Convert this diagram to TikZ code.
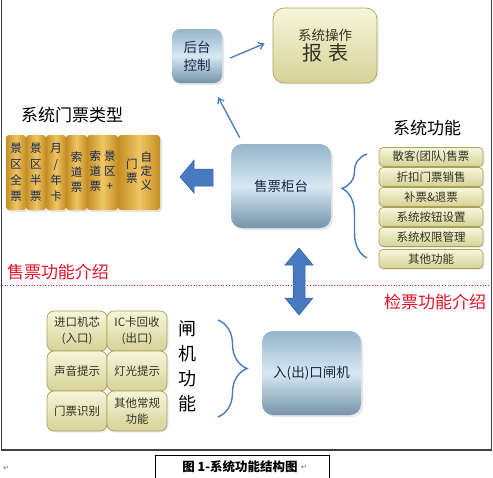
\documentclass[tikz,border=0pt]{standalone}
\usepackage{fontspec}
\setmainfont{Noto Sans CJK SC}
\newfontfamily\symfont{DejaVu Sans}
\usetikzlibrary{arrows.meta,positioning,shadows,decorations.pathreplacing}
\definecolor{boxBlueTop}{RGB}{150,180,202}
\definecolor{boxBlueMid}{RGB}{214,232,243}
\definecolor{boxBlueBot}{RGB}{118,148,170}
\definecolor{boxText}{RGB}{20,40,70}
\definecolor{khakiTop}{RGB}{246,246,218}
\definecolor{khakiBot}{RGB}{214,210,152}
\definecolor{khakiLine}{RGB}{170,162,90}
\definecolor{khakiText}{RGB}{50,50,35}
\definecolor{goldDark}{RGB}{196,142,36}
\definecolor{goldLight}{RGB}{240,198,100}
\definecolor{goldText}{RGB}{20,35,85}
\definecolor{arrowBlue}{RGB}{72,122,192}
\definecolor{arrowBlueDark}{RGB}{50,92,158}
\definecolor{titleRed}{RGB}{228,18,38}

\begin{document}
\begin{tikzpicture}[x=1pt, y=-1pt, every node/.style={inner sep=1pt},
  bluebox/.style={rounded corners=11pt, top color=boxBlueTop, bottom color=boxBlueBot, middle color=boxBlueMid,
    text=boxText, align=center, font=\fontsize{13.5}{18}\selectfont,
    drop shadow={shadow xshift=2pt, shadow yshift=-2pt, opacity=0.2}},
  khakibox/.style={rounded corners=4pt, draw=khakiLine, line width=0.7pt, top color=khakiTop, bottom color=khakiBot,
    text=khakiText, align=center, font=\fontsize{11.5}{16}\selectfont,
    drop shadow={shadow xshift=1.5pt, shadow yshift=-1.5pt, opacity=0.15}},
  goldbox/.style={rounded corners=3pt, left color=goldDark, right color=goldDark, middle color=goldLight,
    text=goldText, align=center, minimum height=75pt, font=\fontsize{11.5}{16}\selectfont,
    drop shadow={shadow xshift=2pt, shadow yshift=-2pt, opacity=0.2}},
  heading/.style={font=\fontsize{17}{20}\selectfont},
  thinarrow/.style={-{Straight Barb[length=5pt,width=7pt]}, arrowBlue, line width=1.3pt},
  bigarrow/.style={fill=arrowBlue, draw=arrowBlueDark, line width=0.5pt},
  bluebrace/.style={decorate, arrowBlue, line width=1.4pt}]
  \useasboundingbox (0,0) rectangle (493,477);

  % frame and separator
  \draw[black!75, line width=1.5pt] (1.5,0) -- (1.5,450) -- (491.5,450) -- (491.5,0);
  \draw[titleRed, dotted, line width=0.7pt] (2,285) -- (491,285);

  % sales counter with its neighbours
  \node[bluebox, minimum width=100pt, minimum height=84pt] (counter) at (281,186) {售票柜台};
  \node[bluebox, rounded corners=8pt, minimum width=50pt, minimum height=54pt] (backend) at (197,56) {后台\\控制};
  \node[khakibox, rounded corners=11pt, minimum width=104pt, minimum height=75pt] (report) at (325,45.5)
    {{\fontsize{13.5}{16}\selectfont 系统操作}\\[1pt]{\fontsize{20}{22}\selectfont 报\hspace{6pt}表}};
  \draw[thinarrow] ([xshift=9pt,yshift=6pt]counter.north west) -- ([xshift=-4pt,yshift=-14pt]backend.south east);
  \draw[thinarrow] ([xshift=8pt,yshift=-2pt]backend.east) -- ([xshift=-8pt,yshift=2pt]report.west);

  % ticket types
  \node[heading] (typetitle) at (72,115) {系统门票类型};
  \node[goldbox, minimum width=20pt] (type1) at (16,172.5) {景\\区\\全\\票};
  \node[goldbox, minimum width=20pt] (type2) at (36,172.5) {景\\区\\半\\票};
  \node[goldbox, minimum width=20pt] (type3) at (56,172.5) {月\\/\\年\\卡};
  \node[goldbox, minimum width=21pt, font=\fontsize{11.5}{15}\selectfont] (type4) at (76.5,172.5) {索\\道\\票};
  \node[goldbox, minimum width=31pt, font=\fontsize{11.5}{15}\selectfont] (type5) at (102.5,172.5)
    {\begin{tabular}[c]{@{}c@{}}索\\道\\票\end{tabular}\hspace{3pt}\begin{tabular}[c]{@{}c@{}}景\\区\\+\end{tabular}};
  \node[goldbox, minimum width=42pt, font=\fontsize{11.5}{14}\selectfont] (type6) at (139,172.5)
    {\begin{tabular}[c]{@{}c@{}}门\\票\end{tabular}\hspace{3pt}\begin{tabular}[c]{@{}c@{}}自\\定\\义\end{tabular}};
  \draw[bigarrow] (180,177) -- (194,160) -- (194,169) -- (213,169) -- (213,186) -- (194,186) -- (194,193) -- cycle;

  % system functions
  \node[heading] (functitle) at (427,128) {系统功能};
  \node[khakibox, minimum width=104pt, minimum height=19pt] (func1) at (431,157) {散客(团队)售票};
  \node[khakibox, minimum width=104pt, minimum height=19pt] (func2) at (431,177) {折扣门票销售};
  \node[khakibox, minimum width=104pt, minimum height=19pt] (func3) at (431,197) {补票\&退票};
  \node[khakibox, minimum width=104pt, minimum height=19pt] (func4) at (431,217) {系统按钮设置};
  \node[khakibox, minimum width=104pt, minimum height=19pt] (func5) at (431,237) {系统权限管理};
  \node[khakibox, minimum width=104pt, minimum height=19pt] (func6) at (431,259) {其他功能};
  \draw[bluebrace, decoration={brace, amplitude=25pt, aspect=0.67}] (367,258) -- (367,154);

  % section titles
  \node[heading, text=titleRed] (saletitle) at (58,272) {售票功能介绍};
  \node[heading, text=titleRed] (checktitle) at (435,302) {检票功能介绍};

  % link between counter and gate
  \draw[bigarrow] (299,248) -- (313,265) -- (305,265) -- (305,298) -- (313,298) -- (299,315)
    -- (285,298) -- (293,298) -- (293,265) -- (285,265) -- cycle;

  % gate and its functions
  \node[bluebox, minimum width=99pt, minimum height=84pt] (gate) at (311.5,373) {入(出)口闸机};
  \draw[bluebrace, decoration={brace, amplitude=29pt}] (218,320) -- (218,417);
  \node[font=\fontsize{18}{25}\selectfont, align=center] (gatetitle) at (187,366) {闸\\机\\功\\能};
  \node[khakibox, rounded corners=7pt, minimum width=60pt, minimum height=40pt] (gate11) at (77,331) {进口机芯\\(入口)};
  \node[khakibox, rounded corners=7pt, minimum width=60pt, minimum height=40pt] (gate12) at (137,331) {IC卡回收\\(出口)};
  \node[khakibox, rounded corners=7pt, minimum width=60pt, minimum height=40pt] (gate21) at (77,371) {声音提示};
  \node[khakibox, rounded corners=7pt, minimum width=60pt, minimum height=40pt] (gate22) at (137,371) {灯光提示};
  \node[khakibox, rounded corners=7pt, minimum width=60pt, minimum height=40pt] (gate31) at (77,411) {门票识别};
  \node[khakibox, rounded corners=7pt, minimum width=60pt, minimum height=40pt] (gate32) at (137,411) {其他常规\\功能};

  % caption
  \draw[black, line width=0.8pt] (155,478) -- (155,455.5) -- (329,455.5) -- (329,478);
  \node[font=\fontsize{12.5}{15}\selectfont\bfseries] (caption) at (240,467) {图 1-系统功能结构图};
  \node[right=1pt of caption, font=\symfont\fontsize{7}{8}\selectfont, text=black!60] (capmark) {↵};
  \node[font=\symfont\fontsize{7}{8}\selectfont, text=black!60] (leftmark) at (6,468) {↵};
\end{tikzpicture}
\end{document}
